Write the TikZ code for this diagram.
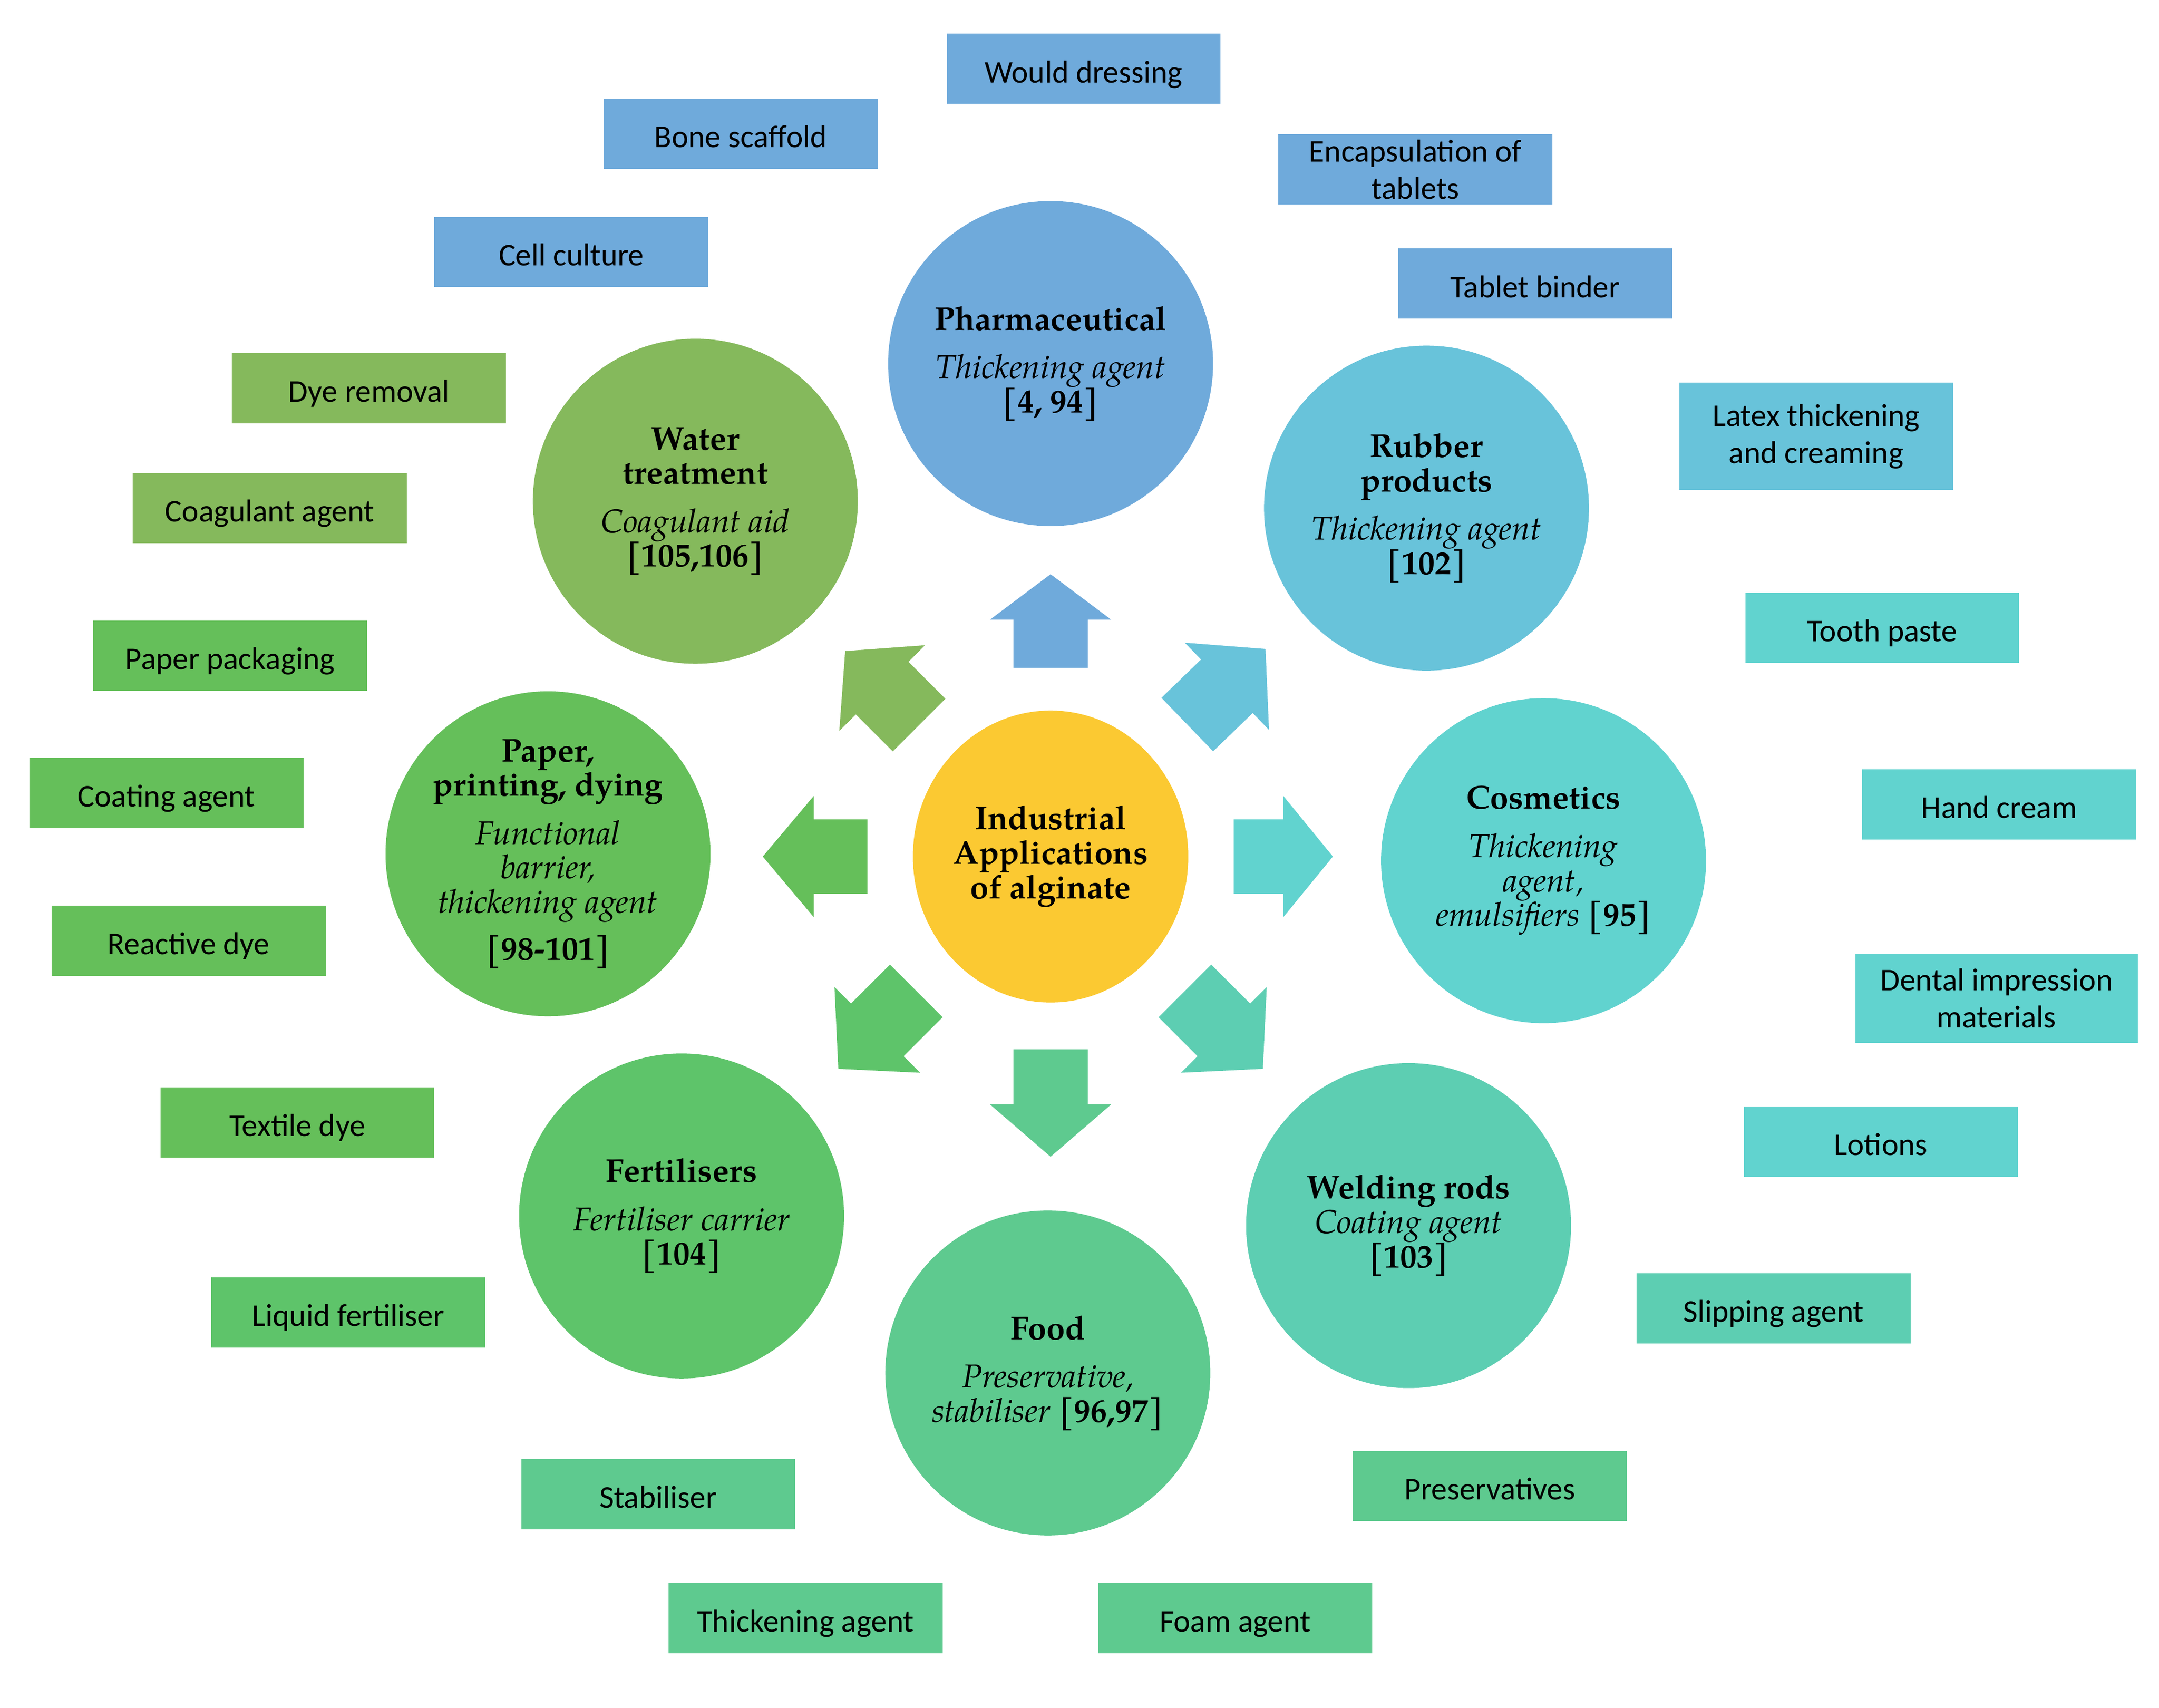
\documentclass[tikz,border=0pt]{standalone}
\usepackage{fontspec}
\setmainfont{texgyrepagella}[Extension=.otf, UprightFont=*-regular, BoldFont=*-bold, ItalicFont=*-italic, BoldItalicFont=*-bolditalic]
\newfontfamily\boxfont{Carlito}
\usetikzlibrary{shapes.geometric}
\definecolor{hubColor}{RGB}{251,201,50}
\definecolor{pharmColor}{RGB}{111,170,219}
\definecolor{rubberColor}{RGB}{104,195,218}
\definecolor{cosmColor}{RGB}{97,211,207}
\definecolor{weldColor}{RGB}{93,206,178}
\definecolor{foodColor}{RGB}{94,202,143}
\definecolor{fertColor}{RGB}{94,196,106}
\definecolor{paperColor}{RGB}{101,191,90}
\definecolor{waterColor}{RGB}{133,185,92}
\tikzset{
  hub/.style={ellipse, fill=hubColor, minimum width=100pt, minimum height=106pt, inner sep=0pt, align=center, font=\fontsize{12}{12.5}\selectfont\bfseries},
  field/.style={circle, minimum size=118pt, inner sep=0pt, align=center, font=\fontsize{12}{12.5}\selectfont\bfseries},
  tag/.style={rectangle, minimum width=99.5pt, minimum height=25.5pt, inner sep=0pt, text height=10pt, text depth=0pt, align=center, font=\boxfont\fontsize{11.5}{13.5}\selectfont},
  tagtwo/.style={tag, text height=, text depth=},
}
\newcommand{\useit}[1]{{\mdseries\itshape #1}}
% angle, colour, start, head base, tip
\newcommand{\blockarrow}[5]{\fill[#2, shift={(hub.center)}, rotate=#1] (#3,-27) -- (#4,-27) -- (#4,-44) -- (#5,0) -- (#4,44) -- (#4,27) -- (#3,27) -- cycle;}
\begin{document}
\begin{tikzpicture}[x=0.5pt, y=-0.5pt]
\useasboundingbox (0,0) rectangle (1568,1240);
% centre
\node[hub] (hub) at (763,622) {Industrial\\Applications\\of alginate};
\blockarrow{90}{pharmColor}{137}{172}{205}
\blockarrow{44}{rubberColor}{138}{178}{217}
\blockarrow{0}{cosmColor}{133}{169}{205}
\blockarrow{-45}{weldColor}{138}{178}{218}
\blockarrow{-90}{foodColor}{140}{180}{218}
\blockarrow{-135}{fertColor}{138}{178}{218}
\blockarrow{180}{paperColor}{133}{172}{209}
\blockarrow{135}{waterColor}{135}{173}{211}
% fields
\node[field, fill=pharmColor] (pharm) at (763,264) {Pharmaceutical\\[5pt]\useit{Thickening agent}\\{}[4, 94]};
\node[field, fill=rubberColor] (rubber) at (1036,369) {Rubber\\products\\[5pt]\useit{Thickening agent}\\{}[102]};
\node[field, fill=cosmColor] (cosm) at (1121,625) {Cosmetics\\[5pt]\useit{Thickening}\\\useit{agent,}\\\useit{emulsifiers} [95]};
\node[field, fill=weldColor] (weld) at (1023,890) {Welding rods\\\useit{Coating agent}\\{}[103]};
\node[field, fill=foodColor] (food) at (761,997) {Food\\[5pt]\useit{Preservative,}\\\useit{stabiliser} [96,97]};
\node[field, fill=fertColor] (fert) at (495,883) {Fertilisers\\[5pt]\useit{Fertiliser carrier}\\{}[104]};
\node[field, fill=paperColor] (paper) at (398,620) {Paper,\\printing, dying\\[5pt]\useit{Functional}\\\useit{barrier,}\\\useit{thickening agent}\\[4.5pt][98-101]};
\node[field, fill=waterColor] (water) at (505,364) {Water\\treatment\\[5pt]\useit{Coagulant aid}\\{}[105,106]};
% pharmaceutical uses
\node[tag, fill=pharmColor] (wound) at (787,50) {Would dressing};
\node[tag, fill=pharmColor] (bone) at (538,97) {Bone scaffold};
\node[tag, fill=pharmColor] (cell) at (415,183) {Cell culture};
\node[tagtwo, fill=pharmColor] (encap) at (1028,123) {Encapsulation of\\tablets};
\node[tag, fill=pharmColor] (binder) at (1115,206) {Tablet binder};
% rubber
\node[tagtwo, fill=rubberColor, minimum height=39pt] (latex) at (1319,317) {Latex thickening\\and creaming};
% cosmetics
\node[tag, fill=cosmColor] (tooth) at (1367,456) {Tooth paste};
\node[tag, fill=cosmColor] (hand) at (1452,584) {Hand cream};
\node[tagtwo, fill=cosmColor, minimum width=102.5pt, minimum height=32.5pt] (dental) at (1450,725) {Dental impression\\materials};
\node[tag, fill=cosmColor] (lotion) at (1366,829) {Lotions};
% welding
\node[tag, fill=weldColor] (slip) at (1288,950) {Slipping agent};
% food
\node[tag, fill=foodColor] (preserv) at (1082,1079) {Preservatives};
\node[tag, fill=foodColor] (foam) at (897,1175) {Foam agent};
\node[tag, fill=foodColor] (thick) at (585,1175) {Thickening agent};
\node[tag, fill=foodColor] (stab) at (478,1085) {Stabiliser};
% fertilisers
\node[tag, fill=fertColor] (liquid) at (253,953) {Liquid fertiliser};
% paper
\node[tag, fill=paperColor] (textile) at (216,815) {Textile dye};
\node[tag, fill=paperColor] (reactive) at (137,683) {Reactive dye};
\node[tag, fill=paperColor] (coating) at (121,576) {Coating agent};
\node[tag, fill=paperColor] (packaging) at (167,476) {Paper packaging};
% water
\node[tag, fill=waterColor] (coag) at (196,369) {Coagulant agent};
\node[tag, fill=waterColor] (dye) at (268,282) {Dye removal};
\end{tikzpicture}
\end{document}
